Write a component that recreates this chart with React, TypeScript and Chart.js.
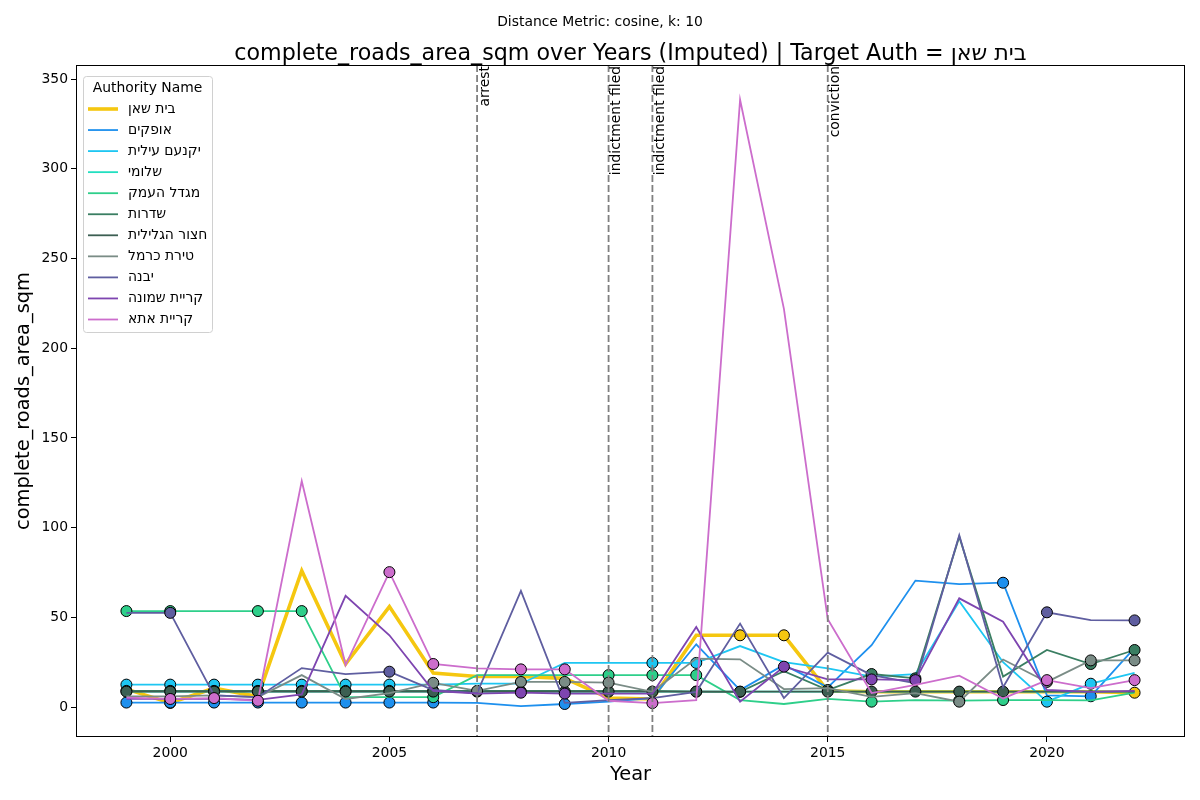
import { useEffect, useRef } from 'react';
import { Chart, registerables } from 'chart.js';

Chart.register(...registerables);

const FONT = "'DejaVu Sans', 'Liberation Sans', sans-serif";

// data
const years = [1999, 2000, 2001, 2002, 2003, 2004, 2005, 2006, 2007, 2008, 2009, 2010, 2011, 2012, 2013, 2014, 2015, 2016, 2017, 2018, 2019, 2020, 2021, 2022];

const authorities = ['בית שאן', 'אופקים', 'יקנעם עילית', 'שלומי', 'מגדל העמק', 'שדרות', 'חצור הגלילית', 'טירת כרמל', 'יבנה', 'קריית שמונה', 'קריית אתא'];
const colors = ['#f5c710', '#1e90ee', '#1ec6f2', '#22dfc0', '#2ecf8a', '#3a7e62', '#3c5f52', '#7a8c86', '#5f5ea0', '#7e45b0', '#cc6dcc'];

const beitShean = [10, 2.3, 10.5, 5.8, 76, 24, 56, 19, 17, 17, 16, 5, 4.5, 40, 40, 40, 9, 8.5, 8.5, 8.5, 8.5, 8.5, 8.5, 8];
const ofakim = [2.5, 2.5, 2.5, 2.5, 2.5, 2.5, 2.5, 2.5, 2.3, 0.5, 1.7, 3, 5, 35, 9.5, 23.5, 11, 34.5, 70.5, 68.5, 69.3, 6.5, 6, 33];
const yokneam = [12.5, 12.5, 12.5, 12.5, 12.5, 12.5, 12.5, 12.5, 13, 13, 24.6, 24.6, 24.6, 24.6, 34, 25, 21.5, 17, 18.4, 59, 25, 3, 13, 19];
const shlomi = [8.6, 8.6, 8.6, 8.6, 8.6, 8.6, 8.6, 8.6, 8.6, 8.6, 8.6, 8.6, 8.6, 8.6, 8.6, 8.6, 8.6, 8.6, 8.6, 8.6, 8.6, 8.6, 8.6, 8.6];
const migdalHaemek = [53.5, 53.5, 53.5, 53.5, 53.5, 5.5, 5.5, 5.5, 17.8, 17.8, 17.8, 17.8, 17.8, 17.8, 3.9, 1.7, 4.5, 3, 3.9, 3.6, 3.9, 3.9, 3.7, 8];
const sderot = [9, 9, 9, 9, 9, 9, 9, 9, 9, 9, 9, 9, 9, 8.6, 8.5, 20, 9.5, 18.4, 16, 95, 17, 31.8, 24, 31.8];
const hatzor = [8.6, 8.6, 8.6, 8.6, 8.6, 8.6, 8.6, 8.6, 8.6, 8.6, 8.6, 8.6, 8.6, 8.6, 8.6, 8.6, 8.6, 8.6, 8.6, 8.6, 8.6, 8.6, 8.6, 8.6];
const tiratCarmel = [6, 6, 6.5, 5.5, 17.8, 4.5, 7.8, 13.5, 9, 14, 14, 13.6, 8.5, 27, 26.6, 10, 10.5, 5.7, 7.8, 3, 26.5, 14, 26, 26];
const yavne = [52.5, 52.5, 6.5, 5.5, 21.7, 18.4, 19.7, 9.5, 7.8, 64.7, 2.3, 3.9, 5, 8.5, 46.5, 5, 30.3, 17.8, 13.3, 95.8, 11, 52.8, 48.5, 48.3];
const kiryatShmona = [4.5, 4.5, 4.5, 4, 7, 62, 40, 9, 7.5, 8, 7.5, 7.5, 7.5, 44.6, 3, 22.5, 15.4, 15.4, 15, 60.6, 47.6, 9.5, 8.5, 9];
const kiryatAta = [5.2, 4.5, 5, 3.5, 126, 23.4, 75.2, 24, 21.5, 21, 21, 3.5, 2.2, 3.9, 338.5, 222, 49, 7.8, 12.3, 17.5, 4.8, 15, 10.5, 15];

// years with observed (non-imputed) values
const beitSheanObs = [2000, 2013, 2014, 2022];
const ofakimObs = [1999, 2000, 2001, 2002, 2003, 2004, 2005, 2006, 2009, 2019, 2021];
const yokneamObs = [1999, 2000, 2001, 2002, 2003, 2004, 2005, 2011, 2012, 2020, 2021];
const shlomiObs: number[] = [];
const migdalHaemekObs = [1999, 2000, 2002, 2003, 2006, 2010, 2011, 2012, 2016, 2018, 2019];
const sderotObs = [1999, 2000, 2001, 2002, 2003, 2004, 2005, 2006, 2012, 2013, 2015, 2016, 2017, 2021, 2022];
const hatzorObs = [1999, 2000, 2001, 2002, 2003, 2004, 2005, 2006, 2007, 2008, 2009, 2010, 2011, 2012, 2013, 2015, 2016, 2017, 2018, 2019];
const tiratCarmelObs = [2006, 2007, 2008, 2009, 2010, 2018, 2020, 2021, 2022];
const yavneObs = [2000, 2005, 2020, 2022];
const kiryatShmonaObs = [2008, 2009, 2014, 2016, 2017];
const kiryatAtaObs = [2000, 2001, 2002, 2005, 2006, 2008, 2009, 2011, 2020, 2022];

const eventYears = [2007, 2010, 2011, 2015];
const eventLabels = ['arrest', 'indictment filed', 'indictment filed', 'conviction'];

const xTicks = [2000, 2005, 2010, 2015, 2020];
const yTicks = [0, 50, 100, 150, 200, 250, 300, 350];

const series = [beitShean, ofakim, yokneam, shlomi, migdalHaemek, sderot, hatzor, tiratCarmel, yavne, kiryatShmona, kiryatAta];
const observed = [beitSheanObs, ofakimObs, yokneamObs, shlomiObs, migdalHaemekObs, sderotObs, hatzorObs, tiratCarmelObs, yavneObs, kiryatShmonaObs, kiryatAtaObs];

const TITLE = 'complete_roads_area_sqm over Years (Imputed) | Target Auth = בית שאן';

const decorPlugin = {
  id: 'decor',
  afterDatasetsDraw(chart: any) {
    const { ctx, chartArea: a, scales } = chart;
    ctx.save();

    // event lines + labels
    ctx.strokeStyle = '#808080';
    ctx.lineWidth = 1.8;
    ctx.setLineDash([7, 3]);
    eventYears.forEach((yr) => {
      const x = scales.x.getPixelForValue(yr);
      ctx.beginPath();
      ctx.moveTo(x, a.top);
      ctx.lineTo(x, a.bottom);
      ctx.stroke();
    });
    ctx.setLineDash([]);
    ctx.fillStyle = '#000';
    ctx.font = `13.9px ${FONT}`;
    eventYears.forEach((yr, i) => {
      const x = scales.x.getPixelForValue(yr);
      ctx.save();
      ctx.translate(x + 1, a.top + 1);
      ctx.rotate(-Math.PI / 2);
      ctx.textAlign = 'right';
      ctx.textBaseline = 'top';
      ctx.fillText(eventLabels[i], 0, 0);
      ctx.restore();
    });

    // frame
    ctx.strokeStyle = '#000';
    ctx.lineWidth = 1;
    ctx.strokeRect(a.left + 0.5, a.top + 0.5, a.right - a.left - 1, a.bottom - a.top - 1);

    // legend
    const lx = 83, ly = 76, lw = 129, lh = 256;
    ctx.beginPath();
    ctx.roundRect(lx + 0.5, ly + 0.5, lw, lh, 3);
    ctx.fillStyle = 'rgba(255,255,255,0.85)';
    ctx.fill();
    ctx.strokeStyle = '#d0d0d0';
    ctx.stroke();
    ctx.fillStyle = '#000';
    ctx.textBaseline = 'middle';
    ctx.textAlign = 'center';
    ctx.fillText('Authority Name', lx + lw / 2, 88);
    ctx.textAlign = 'left';
    authorities.forEach((name, i) => {
      const y = 109 + i * 21.05;
      ctx.strokeStyle = colors[i];
      ctx.lineWidth = i === 0 ? 3.6 : 1.8;
      ctx.beginPath();
      ctx.moveTo(88, y);
      ctx.lineTo(118, y);
      ctx.stroke();
      ctx.fillStyle = '#000';
      ctx.fillText(name, 128, y);
    });

    // titles
    ctx.textAlign = 'center';
    ctx.font = `13.9px ${FONT}`;
    ctx.fillText('Distance Metric: cosine, k: 10', 600, 22);
    ctx.font = `22.2px ${FONT}`;
    ctx.fillText(TITLE, (a.left + a.right) / 2, 54);
    ctx.font = `19.4px ${FONT}`;
    ctx.fillText('Year', (a.left + a.right) / 2, 775);
    ctx.save();
    ctx.translate(24, (a.top + a.bottom) / 2);
    ctx.rotate(-Math.PI / 2);
    ctx.fillText('complete_roads_area_sqm', 0, 0);
    ctx.restore();

    ctx.restore();
  },
};

export default function App() {
  const canvasRef = useRef<HTMLCanvasElement>(null);

  useEffect(() => {
    document.body.style.margin = '0';
    if (!canvasRef.current) return;

    const datasets = authorities.map((name, i) => ({
      label: name,
      data: years.map((yr, j) => ({ x: yr, y: series[i][j] })),
      borderColor: colors[i],
      backgroundColor: colors[i],
      borderWidth: i === 0 ? 3.6 : 1.8,
      pointRadius: years.map((yr) => (observed[i].includes(yr) ? 5.5 : 0)),
      pointHoverRadius: 0,
      pointBackgroundColor: colors[i],
      pointBorderColor: '#000',
      pointBorderWidth: 1,
      tension: 0,
      order: -i,
    }));

    const tickFont = { family: FONT, size: 13.9 };

    const chart = new Chart(canvasRef.current, {
      type: 'line',
      data: { datasets },
      plugins: [decorPlugin],
      options: {
        responsive: false,
        animation: false,
        devicePixelRatio: 1,
        layout: { padding: { top: 65, right: 15, left: 0, bottom: 0 } },
        plugins: {
          legend: { display: false },
          tooltip: { enabled: false },
        },
        scales: {
          x: {
            type: 'linear',
            min: 1997.85,
            max: 2023.15,
            afterBuildTicks: (scale: any) => {
              scale.ticks = xTicks.map((v) => ({ value: v }));
            },
            afterFit: (scale: any) => {
              scale.height = 63;
            },
            ticks: { color: '#000', font: tickFont, padding: 3, maxRotation: 0, callback: (v: any) => String(v) },
            grid: { drawOnChartArea: false, drawTicks: true, tickLength: 5, color: '#000' },
            border: { display: false },
          },
          y: {
            type: 'linear',
            min: -16.7,
            max: 357.9,
            afterBuildTicks: (scale: any) => {
              scale.ticks = yTicks.map((v) => ({ value: v }));
            },
            afterFit: (scale: any) => {
              scale.width = 76;
            },
            ticks: { color: '#000', font: tickFont, padding: 3, callback: (v: any) => String(v) },
            grid: { drawOnChartArea: false, drawTicks: true, tickLength: 5, color: '#000' },
            border: { display: false },
          },
        },
      } as any,
    });

    return () => chart.destroy();
  }, []);

  return (
    <div style={{ width: 1200, height: 800, background: '#fff' }}>
      <canvas ref={canvasRef} width={1200} height={800} style={{ display: 'block' }} />
    </div>
  );
}
